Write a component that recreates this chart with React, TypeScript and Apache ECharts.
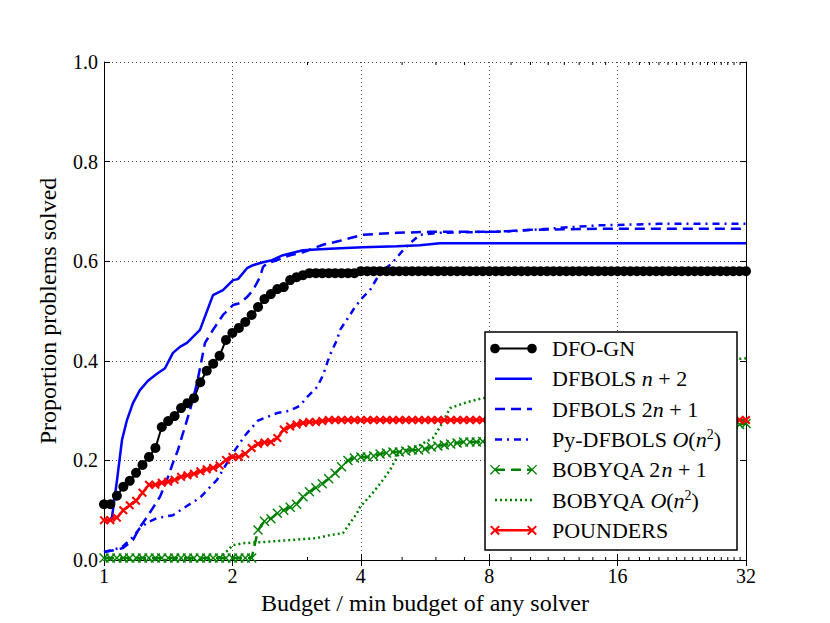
import React, { useEffect, useRef } from "react";
import * as echarts from "echarts";

// Shared budget grid (ratio to min budget) where the marker series are sampled
const markerBudgets = [
  1, 1.035, 1.072, 1.11, 1.149, 1.189, 1.231, 1.275, 1.32, 1.366, 1.414, 1.464, 1.516, 1.569, 1.625, 1.682, 1.741, 1.803, 1.866, 1.932,
  2, 2.071, 2.144, 2.219, 2.297, 2.378, 2.462, 2.549, 2.639, 2.732, 2.828, 2.928, 3.031, 3.138, 3.249, 3.364, 3.482, 3.605, 3.732, 3.864,
  4, 4.141, 4.287, 4.438, 4.595, 4.757, 4.925, 5.098, 5.278, 5.464, 5.657, 5.856, 6.063, 6.277, 6.498, 6.727, 6.964, 7.21, 7.464, 7.727,
  8, 8.282, 8.574, 8.877, 9.19, 9.514, 9.849, 10.196, 10.556, 10.928, 11.314, 11.713, 12.126, 12.553, 12.996, 13.454, 13.929, 14.42, 14.929, 15.455,
  16, 16.56, 17.15, 17.75, 18.38, 19.03, 19.7, 20.39, 21.11, 21.86, 22.63, 23.43, 24.25, 25.11, 25.99, 26.91, 27.86, 28.84, 29.86, 30.91, 32,
];

const dfoGn = [
  0.112, 0.112, 0.129, 0.147, 0.159, 0.175, 0.191, 0.207, 0.225, 0.267, 0.279, 0.289, 0.305, 0.315, 0.325, 0.357, 0.38, 0.394, 0.41, 0.442,
  0.456, 0.466, 0.478, 0.492, 0.508, 0.524, 0.534, 0.544, 0.548, 0.562, 0.568, 0.572, 0.576, 0.576, 0.576, 0.576, 0.576, 0.576, 0.576, 0.576,
  0.58, 0.58, 0.58, 0.58, 0.58, 0.58, 0.58, 0.58, 0.58, 0.58, 0.58, 0.58, 0.58, 0.58, 0.58, 0.58, 0.58, 0.58, 0.58, 0.58,
  0.58, 0.58, 0.58, 0.58, 0.58, 0.58, 0.58, 0.58, 0.58, 0.58, 0.58, 0.58, 0.58, 0.58, 0.58, 0.58, 0.58, 0.58, 0.58, 0.58,
  0.58, 0.58, 0.58, 0.58, 0.58, 0.58, 0.58, 0.58, 0.58, 0.58, 0.58, 0.58, 0.58, 0.58, 0.58, 0.58, 0.58, 0.58, 0.58, 0.58, 0.58,
];

const bobyqa2n1 = [
  0.004, 0.004, 0.004, 0.004, 0.004, 0.004, 0.004, 0.004, 0.004, 0.004, 0.004, 0.004, 0.004, 0.004, 0.004, 0.004, 0.004, 0.004, 0.004, 0.004,
  0.004, 0.004, 0.004, 0.004, 0.06, 0.078, 0.083, 0.094, 0.1, 0.106, 0.112, 0.127, 0.137, 0.145, 0.153, 0.163, 0.174, 0.187, 0.2, 0.205,
  0.207, 0.207, 0.209, 0.213, 0.215, 0.217, 0.217, 0.219, 0.221, 0.221, 0.223, 0.227, 0.229, 0.231, 0.233, 0.235, 0.237, 0.237, 0.237, 0.238,
  0.238, 0.24, 0.24, 0.24, 0.24, 0.245, 0.245, 0.245, 0.245, 0.245, 0.25, 0.25, 0.25, 0.25, 0.25, 0.258, 0.258, 0.258, 0.258, 0.258,
  0.262, 0.262, 0.262, 0.262, 0.262, 0.266, 0.266, 0.266, 0.266, 0.266, 0.27, 0.27, 0.27, 0.27, 0.27, 0.272, 0.272, 0.272, 0.272, 0.272, 0.274,
];

const pounders = [
  0.08, 0.08, 0.085, 0.1, 0.11, 0.119, 0.135, 0.151, 0.151, 0.155, 0.157, 0.161, 0.167, 0.17, 0.173, 0.178, 0.182, 0.185, 0.19, 0.201,
  0.207, 0.207, 0.213, 0.225, 0.233, 0.236, 0.237, 0.245, 0.262, 0.268, 0.272, 0.275, 0.277, 0.277, 0.279, 0.281, 0.281, 0.281, 0.281, 0.281,
  0.281, 0.281, 0.281, 0.281, 0.281, 0.281, 0.281, 0.281, 0.281, 0.281, 0.281, 0.281, 0.281, 0.281, 0.281, 0.281, 0.281, 0.281, 0.281, 0.281,
  0.281, 0.281, 0.281, 0.281, 0.281, 0.281, 0.281, 0.281, 0.281, 0.281, 0.281, 0.281, 0.281, 0.281, 0.281, 0.281, 0.281, 0.281, 0.281, 0.281,
  0.281, 0.281, 0.281, 0.281, 0.281, 0.281, 0.281, 0.281, 0.281, 0.281, 0.281, 0.281, 0.281, 0.281, 0.281, 0.281, 0.281, 0.281, 0.281, 0.281, 0.281,
];

// Line-only series as [budget ratio, proportion solved]
const dfbolsN2 = [
  [1, 0.08], [1.033, 0.08], [1.044, 0.086], [1.073, 0.161], [1.102, 0.241], [1.132, 0.281], [1.169, 0.315], [1.214, 0.341],
  [1.268, 0.36], [1.331, 0.374], [1.39, 0.385], [1.451, 0.416], [1.507, 0.428], [1.565, 0.436], [1.679, 0.462], [1.801, 0.532],
  [1.901, 0.542], [2.007, 0.562], [2.061, 0.564], [2.164, 0.586], [2.236, 0.592], [2.359, 0.598], [2.476, 0.602], [2.628, 0.612],
  [2.928, 0.622], [3.209, 0.624], [3.575, 0.626], [4.048, 0.628], [4.863, 0.63], [5.5, 0.632], [6.134, 0.636], [32, 0.636],
];

const dfbols2n1 = [
  [1, 0.016], [1.061, 0.02], [1.108, 0.024], [1.169, 0.04], [1.214, 0.066], [1.261, 0.086], [1.353, 0.127], [1.405, 0.161],
  [1.451, 0.195], [1.491, 0.221], [1.532, 0.255], [1.591, 0.301], [1.652, 0.355], [1.725, 0.436], [1.801, 0.462], [1.901, 0.492],
  [2.007, 0.512], [2.084, 0.516], [2.164, 0.528], [2.236, 0.542], [2.321, 0.568], [2.359, 0.588], [2.411, 0.596], [2.545, 0.602],
  [2.73, 0.612], [2.928, 0.618], [3.262, 0.633], [3.575, 0.641], [4.048, 0.653], [4.863, 0.657], [5.812, 0.659], [8.344, 0.659],
  [9.97, 0.663], [14.55, 0.665], [32, 0.665],
];

const pyDfbols = [
  [1, 0.016], [1.044, 0.02], [1.102, 0.026], [1.169, 0.046], [1.214, 0.064], [1.268, 0.076], [1.331, 0.084], [1.451, 0.09],
  [1.574, 0.11], [1.679, 0.125], [1.84, 0.161], [2.007, 0.215], [2.141, 0.25], [2.296, 0.28], [2.545, 0.295], [2.73, 0.3],
  [2.881, 0.31], [2.992, 0.327], [3.158, 0.347], [3.262, 0.371], [3.387, 0.412], [3.518, 0.442], [3.575, 0.462], [3.773, 0.492],
  [3.876, 0.508], [4.048, 0.528], [4.204, 0.542], [4.437, 0.576], [4.734, 0.596], [5.023, 0.622], [5.217, 0.636], [5.506, 0.653],
  [6.134, 0.657], [8.03, 0.659], [9.447, 0.661], [11.72, 0.667], [14.55, 0.672], [20, 0.675], [32, 0.675],
];

const bobyqaOn2 = [
  [1, 0], [1.821, 0], [1.9, 0.01], [2.007, 0.03], [2.141, 0.034], [2.359, 0.036], [2.73, 0.04], [3.158, 0.044],
  [3.387, 0.05], [3.633, 0.054], [3.773, 0.074], [3.918, 0.094], [3.98, 0.106], [4.27, 0.135], [4.51, 0.161], [4.684, 0.181],
  [4.94, 0.217], [5.506, 0.231], [5.906, 0.245], [6.134, 0.267], [6.475, 0.305], [7.1, 0.317], [7.74, 0.325], [8.5, 0.33],
  [10, 0.35], [12.5, 0.37], [16, 0.385], [22, 0.395], [32, 0.405],
];

const minorTickBudgets = [3, 5, 6, 7, 9, 10, 11, 12, 13, 14, 15, 17, 18, 19, 20, 21, 22, 23, 24, 25, 26, 27, 28, 29, 30, 31];
const xTickLabels = ["1", "2", "4", "8", "16", "32"];

const seriesNames = [
  "DFO-GN",
  "DFBOLS n+2",
  "DFBOLS 2n+1",
  "Py-DFBOLS O(n^2)",
  "BOBYQA 2n+1",
  "BOBYQA O(n^2)",
  "POUNDERS",
];
const legendLabels = [
  "DFO-GN",
  "DFBOLS {i|n} + 2",
  "DFBOLS 2{i|n} + 1",
  "Py-DFBOLS {i|O}({i|n}{s|2})",
  "BOBYQA 2{i|n} + 1",
  "BOBYQA {i|O}({i|n}{s|2})",
  "POUNDERS",
];

const FONT = "'Liberation Serif', 'Times New Roman', serif";
const CROSS_THIN = "path://M1,0L5,4L9,0L10,1L6,5L10,9L9,10L5,6L1,10L0,9L4,5L0,1Z";
const CROSS_BOLD = "path://M0,1.6L1.6,0L5,3.4L8.4,0L10,1.6L6.6,5L10,8.4L8.4,10L5,6.6L1.6,10L0,8.4L3.4,5Z";

type Sty = { color: string; width: number; dash: number[] | null; marker: "circle" | "crossThin" | "crossBold" | "none"; size: number };
const styles: Sty[] = [
  { color: "#000000", width: 2, dash: null, marker: "circle", size: 10 },
  { color: "#0000ff", width: 2.5, dash: null, marker: "none", size: 0 },
  { color: "#0000ff", width: 2.5, dash: [10, 6], marker: "none", size: 0 },
  { color: "#0000ff", width: 2.5, dash: [7, 5, 2, 5], marker: "none", size: 0 },
  { color: "#008000", width: 2.5, dash: [10, 6], marker: "crossThin", size: 10 },
  { color: "#008000", width: 2.5, dash: [2, 3], marker: "none", size: 0 },
  { color: "#ff0000", width: 2.5, dash: null, marker: "crossBold", size: 9 },
];

export default function App() {
  const ref = useRef<HTMLDivElement>(null);
  useEffect(() => {
    if (!ref.current) return;
    const chart = echarts.init(ref.current, undefined, { renderer: "svg" });
    const zip = (ys: number[]) => markerBudgets.map((b, i) => [b, ys[i]]);
    const seriesData: number[][][] = [zip(dfoGn), dfbolsN2, dfbols2n1, pyDfbols, zip(bobyqa2n1), bobyqaOn2, zip(pounders)];

    const axisLine = { show: true, lineStyle: { color: "#000", width: 1 } };
    const tick = { show: true, inside: true, length: 6, lineStyle: { color: "#000", width: 1 } };
    const gridLine = { show: true, lineStyle: { color: "#000", opacity: 0.75, type: [1, 3], width: 1 } };
    const xFmt = (v: number) => {
      const idx = Math.round(Math.log2(v));
      return xTickLabels[idx] ?? String(Math.round(v));
    };

    const symbolOf = (s: Sty) =>
      s.marker === "circle" ? "circle" : s.marker === "crossThin" ? CROSS_THIN : s.marker === "crossBold" ? CROSS_BOLD : "none";

    const lineSeries = seriesNames.map((name, i) => {
      const s = styles[i];
      return {
        name,
        type: "line",
        data: seriesData[i],
        symbol: symbolOf(s),
        symbolSize: s.size,
        showSymbol: s.marker !== "none",
        showAllSymbol: true,
        lineStyle: { color: s.color, width: s.width, type: s.dash ?? "solid" },
        itemStyle: { color: s.color, borderWidth: 0 },
      };
    });

    // Legend drawn as graphic elements (matplotlib style, markers at both ends)
    const LX = 485, LY = 332, LW = 252, LH = 218;
    const firstY = LY + 16.5, pitch = 30.3;
    const lineX1 = LX + 10, lineX2 = LX + 47, textX = LX + 67;
    const legendChildren: any[] = [
      { type: "rect", shape: { x: LX, y: LY, width: LW, height: LH }, style: { fill: "#fff", stroke: "#000", lineWidth: 1.5 }, z: 100 },
    ];
    const markerEls = (s: Sty, cx: number, cy: number) => {
      if (s.marker === "circle") {
        return [{ type: "circle", shape: { cx, cy, r: 4.8 }, style: { fill: s.color }, z: 101 }];
      }
      if (s.marker === "none") return [];
      const h = s.marker === "crossBold" ? 4.2 : 4.6;
      const lw = s.marker === "crossBold" ? 2 : 1.3;
      return [
        { type: "line", shape: { x1: cx - h, y1: cy - h, x2: cx + h, y2: cy + h }, style: { stroke: s.color, lineWidth: lw }, z: 101 },
        { type: "line", shape: { x1: cx - h, y1: cy + h, x2: cx + h, y2: cy - h }, style: { stroke: s.color, lineWidth: lw }, z: 101 },
      ];
    };
    seriesNames.forEach((_n, i) => {
      const s = styles[i];
      const y = firstY + i * pitch;
      legendChildren.push({
        type: "line",
        shape: { x1: lineX1, y1: y, x2: lineX2, y2: y },
        style: { stroke: s.color, lineWidth: s.width, lineDash: s.dash ?? null },
        z: 101,
      });
      legendChildren.push(...markerEls(s, lineX1, y), ...markerEls(s, lineX2, y));
      legendChildren.push({
        type: "text",
        x: textX,
        y,
        z: 102,
        style: {
          text: legendLabels[i],
          fontFamily: FONT,
          fontSize: 22,
          fill: "#000",
          verticalAlign: "middle",
          align: "left",
          rich: {
            i: { fontFamily: FONT, fontSize: 22, fontStyle: "italic", fill: "#000", lineHeight: 24 },
            s: { fontFamily: FONT, fontSize: 14, fill: "#000", verticalAlign: "top", lineHeight: 24 },
          },
          lineHeight: 24,
        },
      });
    });

    const option: any = {
      animation: false,
      backgroundColor: "#fff",
      textStyle: { fontFamily: FONT },
      grid: { left: 104, right: 84, top: 62, bottom: 63, containLabel: false },
      xAxis: [
        {
          type: "log",
          logBase: 2,
          min: 1,
          max: 32,
          position: "bottom",
          axisLine,
          axisTick: tick,
          axisLabel: { fontSize: 20, color: "#000", margin: 6, fontFamily: FONT, formatter: xFmt },
          splitLine: gridLine,
          name: "Budget / min budget of any solver",
          nameLocation: "middle",
          nameGap: 27,
          nameTextStyle: { fontSize: 24, color: "#000", fontFamily: FONT },
        },
        {
          type: "log",
          logBase: 2,
          min: 1,
          max: 32,
          position: "top",
          axisLine,
          axisTick: tick,
          axisLabel: { show: false },
          splitLine: { show: false },
        },
      ],
      yAxis: [
        {
          type: "value",
          min: 0,
          max: 1,
          interval: 0.2,
          position: "left",
          axisLine,
          axisTick: tick,
          axisLabel: { fontSize: 20, color: "#000", margin: 6, fontFamily: FONT, formatter: (v: number) => v.toFixed(1) },
          splitLine: gridLine,
          name: "Proportion problems solved",
          nameLocation: "middle",
          nameGap: 44,
          nameTextStyle: { fontSize: 24, color: "#000", fontFamily: FONT },
        },
        {
          type: "value",
          min: 0,
          max: 1,
          interval: 0.2,
          position: "right",
          axisLine,
          axisTick: tick,
          axisLabel: { show: false },
          splitLine: { show: false },
        },
      ],
      graphic: [{ type: "group", children: legendChildren }],
      series: [
        ...lineSeries,
        {
          name: "minor ticks",
          type: "custom",
          silent: true,
          data: minorTickBudgets.map((b) => [b, 0]),
          encode: { x: 0, y: 1 },
          clip: false,
          renderItem: (_params: any, api: any) => {
            const b = api.value(0);
            const p0 = api.coord([b, 0]);
            const p1 = api.coord([b, 1]);
            return {
              type: "group",
              children: [
                { type: "line", shape: { x1: p0[0], y1: p0[1], x2: p0[0], y2: p0[1] - 3 }, style: { stroke: "#000", lineWidth: 1 } },
                { type: "line", shape: { x1: p1[0], y1: p1[1], x2: p1[0], y2: p1[1] + 3 }, style: { stroke: "#000", lineWidth: 1 } },
              ],
            };
          },
        },
      ],
    };
    chart.setOption(option);
    return () => chart.dispose();
  }, []);
  return (
    <div
      ref={ref}
      style={{ position: "fixed", left: 0, top: 0, width: 830, height: 623, background: "#fff" }}
    />
  );
}
